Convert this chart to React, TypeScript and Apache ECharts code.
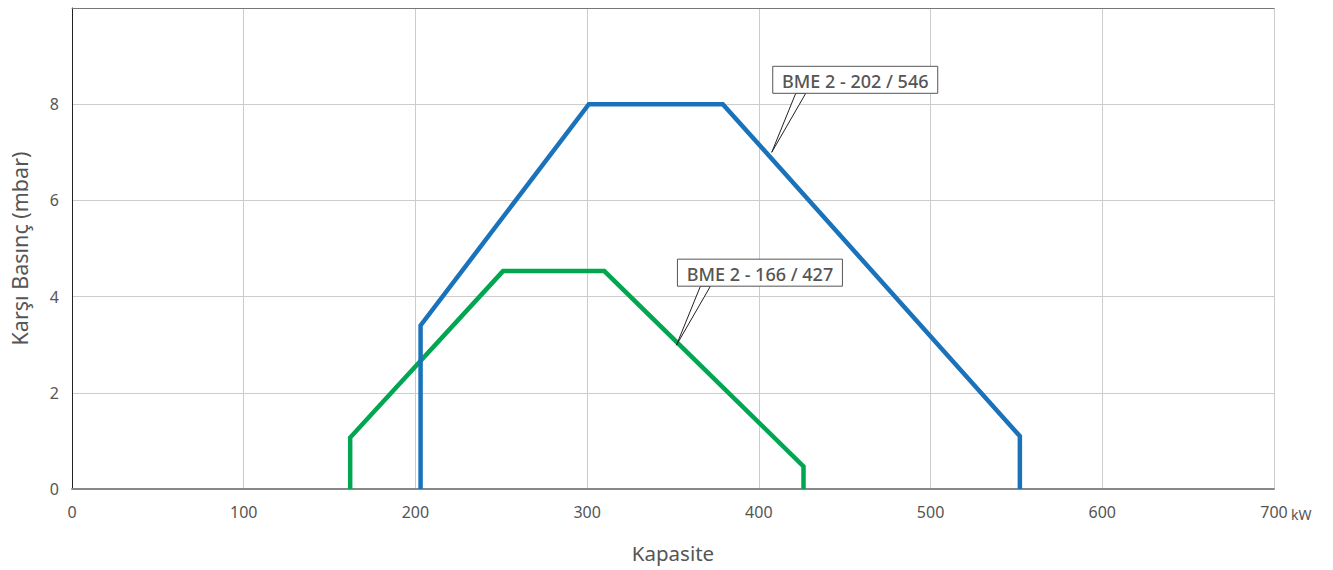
import React, { useEffect, useRef } from "react";
import * as echarts from "echarts";

const xTicks = [0, 100, 200, 300, 400, 500, 600, 700];
const yTicks = [0, 2, 4, 6, 8];

const seriesNames = ["BME 2 - 202 / 546", "BME 2 - 166 / 427"];
const blueCurve: [number, number][] = [
  [203, 0],
  [203, 3.4],
  [301, 8],
  [379, 8],
  [552, 1.1],
  [552, 0],
];
const greenCurve: [number, number][] = [
  [162, 0],
  [162, 1.07],
  [251, 4.53],
  [310, 4.53],
  [426, 0.47],
  [426, 0],
];
const calloutAnchors: [number, number][] = [
  [407.5, 7.0],
  [352, 2.99],
];
const colors = ["#1a73ba", "#00a650"];

const FONT = "'Noto Sans', 'Open Sans', sans-serif";

export default function App() {
  const ref = useRef<HTMLDivElement>(null);
  useEffect(() => {
    if (!ref.current) return;
    const chart = echarts.init(ref.current, undefined, { renderer: "svg" });
    const option: any = {
      animation: false,
      grid: { left: 71, right: 59, top: 8, bottom: 81, containLabel: false },
      xAxis: [
        {
          type: "value",
          min: 0,
          max: 700,
          interval: 100,
          name: "Kapasite",
          nameLocation: "middle",
          nameGap: 53,
          nameTextStyle: { fontSize: 20.5, color: "#555", fontFamily: FONT },
          axisLine: { show: true, lineStyle: { color: "#888", width: 2 } },
          axisTick: { show: false },
          axisLabel: {
            color: "#555",
            fontSize: 16,
            fontFamily: FONT,
            margin: 15,
            formatter: (v: number) => (xTicks.includes(v) ? String(v) : ""),
          },
          splitLine: { show: true, lineStyle: { color: "#cccccc", width: 1 } },
        },
        {
          type: "value",
          position: "top",
          min: 0,
          max: 700,
          interval: 100,
          axisLine: { show: true, lineStyle: { color: "#777", width: 1 } },
          axisTick: { show: false },
          axisLabel: { show: false },
          splitLine: { show: false },
        },
      ],
      yAxis: {
        type: "value",
        min: 0,
        max: 10,
        interval: 2,
        name: "Karşı Basınç (mbar)",
        nameLocation: "middle",
        nameGap: 42,
        nameTextStyle: { fontSize: 21.5, color: "#555", fontFamily: FONT },
        axisLine: { show: true, lineStyle: { color: "#222", width: 1 } },
        axisTick: { show: false },
        axisLabel: {
          color: "#555",
          fontSize: 16,
          fontFamily: FONT,
          margin: 13,
          formatter: (v: number) => (yTicks.includes(v) ? String(v) : ""),
        },
        splitLine: { show: true, lineStyle: { color: "#cccccc", width: 1 } },
      },
      series: [
        {
          name: seriesNames[0],
          type: "line",
          data: blueCurve,
          showSymbol: false,
          lineStyle: { color: colors[0], width: 4.5, join: "miter" },
          z: 3,
        },
        {
          name: seriesNames[1],
          type: "line",
          data: greenCurve,
          showSymbol: false,
          lineStyle: { color: colors[1], width: 4.5, join: "miter" },
          z: 2,
        },
      ],
    };
    chart.setOption(option);

    const graphics: any[] = [];
    calloutAnchors.forEach((a, i) => {
      const p = chart.convertToPixel({ gridIndex: 0 }, a) as number[];
      const ax = p[0];
      const ay = p[1];
      const boxL = ax + 1;
      const boxT = ay - 86;
      const boxW = 165;
      const boxH = 27;
      graphics.push({
        type: "polygon",
        z: 100,
        shape: {
          points: [
            [ax + 24, boxT + boxH],
            [ax, ay],
            [ax + 34, boxT + boxH],
          ],
        },
        style: { fill: "#fff", stroke: "#222", lineWidth: 1 },
      });
      graphics.push({
        type: "rect",
        z: 101,
        shape: { x: boxL, y: boxT, width: boxW, height: boxH },
        style: { fill: "#fff", stroke: "#555", lineWidth: 1 },
      });
      graphics.push({
        type: "text",
        z: 102,
        x: boxL + boxW / 2,
        y: boxT + boxH / 2 + 1,
        style: {
          text: seriesNames[i],
          fontSize: 18,
          fontWeight: 500,
          fontFamily: FONT,
          fill: "#555",
          align: "center",
          verticalAlign: "middle",
        },
      });
    });
    const p700 = chart.convertToPixel({ gridIndex: 0 }, [700, 0]) as number[];
    graphics.push({
      type: "text",
      x: p700[0] + 17,
      y: p700[1] + 25,
      style: {
        text: "kW",
        fontSize: 14,
        fontFamily: FONT,
        fill: "#555",
        align: "left",
        verticalAlign: "middle",
      },
    });
    chart.setOption({ graphic: graphics });

    return () => chart.dispose();
  }, []);
  return (
    <div
      ref={ref}
      style={{ position: "fixed", left: 0, top: 0, width: 1333, height: 570, background: "#fff" }}
    />
  );
}
